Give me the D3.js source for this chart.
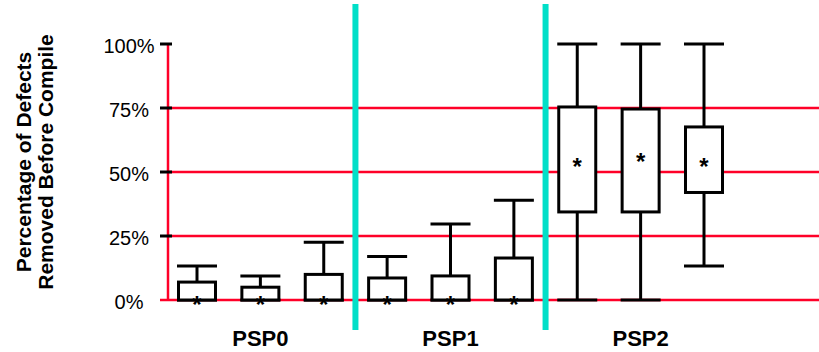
<!DOCTYPE html>
<html>
<head>
<meta charset="utf-8">
<script src="https://cdn.jsdelivr.net/npm/d3@7"></script>
<style>
  body { margin: 0; background: #fff; }
  svg { display: block; font-family: "Liberation Sans", Arial, sans-serif; }
</style>
</head>
<body>
<div id="vis"></div>
<script>
var w = 819;
var h = 352;

// data
var groups = ["PSP0", "PSP1", "PSP2"];
var boxGroup = ["PSP0", "PSP0", "PSP0", "PSP1", "PSP1", "PSP1", "PSP2", "PSP2", "PSP2"];
var whiskerLow = [0, 0, 0, 0, 0, 0, 0, 0, 13.3];
var q1 = [0, 0, 0, 0, 0, 0, 34.4, 34.4, 42];
var median = [0, 0, 0, 0, 0, 0, 54, 56, 54];
var q3 = [7, 5, 10, 8.6, 9.4, 16.4, 75.4, 74.6, 67.6];
var whiskerHigh = [13.3, 9.4, 22.6, 17, 29.7, 39, 100, 100, 100];
var yTicks = [0, 25, 50, 75, 100];

var red = "#ff0028";
var cyan = "#00dfc8";

var svg = d3.select("#vis")
    .append("svg")
    .attr("width", w)
    .attr("height", h);

var boxes = boxGroup.map(function(g, i) {
    return {id: i, group: g, lo: whiskerLow[i], q1: q1[i], med: median[i], q3: q3[i], hi: whiskerHigh[i]};
});

var x = d3.scalePoint()
    .domain(boxes.map(function(d) { return d.id; }))
    .range([197, 704]);

var y = d3.scaleLinear()
    .domain([0, 100])
    .range([300, 44]);

var boxW = 37;
var capW = 40;

// gridlines (no line at 100%)
svg.selectAll(".grid")
    .data(yTicks.filter(function(d) { return d < 100; }))
    .enter()
    .append("line")
    .attr("class", "grid")
    .attr("x1", function(d) { return d == 0 ? 160 : 168; })
    .attr("x2", w)
    .attr("y1", function(d) { return y(d); })
    .attr("y2", function(d) { return y(d); })
    .attr("stroke", red)
    .attr("stroke-width", 2.5);

// y axis line
svg.append("line")
    .attr("x1", 168)
    .attr("x2", 168)
    .attr("y1", y(100))
    .attr("y2", y(0))
    .attr("stroke", red)
    .attr("stroke-width", 2.5);

// ticks
svg.selectAll(".tick")
    .data(yTicks.filter(function(d) { return d > 0; }))
    .enter()
    .append("line")
    .attr("class", "tick")
    .attr("x1", 160)
    .attr("x2", 172)
    .attr("y1", function(d) { return y(d); })
    .attr("y2", function(d) { return y(d); })
    .attr("stroke", "#000")
    .attr("stroke-width", 3);

svg.selectAll(".ticklabel")
    .data(yTicks)
    .enter()
    .append("text")
    .attr("class", "ticklabel")
    .attr("x", 129)
    .attr("y", function(d) { return y(d) + 9; })
    .attr("text-anchor", "middle")
    .style("font-size", "20px")
    .text(function(d) { return d + "%"; });

// y title
svg.append("text")
    .attr("transform", "translate(31,162) rotate(-90)")
    .attr("text-anchor", "middle")
    .style("font-size", "21px")
    .style("font-weight", "bold")
    .text("Percentage of Defects");
svg.append("text")
    .attr("transform", "translate(53,162) rotate(-90)")
    .attr("text-anchor", "middle")
    .style("font-size", "21px")
    .style("font-weight", "bold")
    .text("Removed Before Compile");

// boxes and whiskers
var bx = svg.selectAll(".box")
    .data(boxes)
    .enter()
    .append("g")
    .attr("class", "box");

bx.append("line")
    .attr("x1", function(d) { return x(d.id); })
    .attr("x2", function(d) { return x(d.id); })
    .attr("y1", function(d) { return y(d.hi); })
    .attr("y2", function(d) { return y(d.q3); })
    .attr("stroke", "#000")
    .attr("stroke-width", 3);
bx.append("line")
    .attr("x1", function(d) { return x(d.id); })
    .attr("x2", function(d) { return x(d.id); })
    .attr("y1", function(d) { return y(d.q1); })
    .attr("y2", function(d) { return y(d.lo); })
    .attr("stroke", "#000")
    .attr("stroke-width", 3);
bx.append("line")
    .attr("x1", function(d) { return x(d.id) - capW / 2; })
    .attr("x2", function(d) { return x(d.id) + capW / 2; })
    .attr("y1", function(d) { return y(d.hi); })
    .attr("y2", function(d) { return y(d.hi); })
    .attr("stroke", "#000")
    .attr("stroke-width", 3);
bx.append("line")
    .attr("x1", function(d) { return x(d.id) - capW / 2; })
    .attr("x2", function(d) { return x(d.id) + capW / 2; })
    .attr("y1", function(d) { return y(d.lo); })
    .attr("y2", function(d) { return y(d.lo); })
    .attr("stroke", "#000")
    .attr("stroke-width", 3);

bx.append("rect")
    .attr("x", function(d) { return x(d.id) - boxW / 2; })
    .attr("width", boxW)
    .attr("y", function(d) { return y(d.q3); })
    .attr("height", function(d) { return y(d.q1) - y(d.q3); })
    .attr("fill", "#fff")
    .attr("stroke", "#000")
    .attr("stroke-width", 3);

bx.append("text")
    .attr("x", function(d) { return x(d.id); })
    .attr("y", function(d) { return y(d.med) + 13; })
    .attr("text-anchor", "middle")
    .style("font-size", "24px")
    .style("font-weight", "bold")
    .text("*");

// separators between groups
var seps = [2, 5];
svg.selectAll(".sep")
    .data(seps)
    .enter()
    .append("line")
    .attr("class", "sep")
    .attr("x1", function(d) { return (x(d) + x(d + 1)) / 2; })
    .attr("x2", function(d) { return (x(d) + x(d + 1)) / 2; })
    .attr("y1", 4)
    .attr("y2", 330)
    .attr("stroke", cyan)
    .attr("stroke-width", 6);

// group labels
svg.selectAll(".grouplabel")
    .data(groups)
    .enter()
    .append("text")
    .attr("class", "grouplabel")
    .attr("x", function(g, i) { return x(i * 3 + 1); })
    .attr("y", 346)
    .attr("text-anchor", "middle")
    .style("font-size", "22px")
    .style("font-weight", "bold")
    .text(function(g) { return g; });
</script>
</body>
</html>
